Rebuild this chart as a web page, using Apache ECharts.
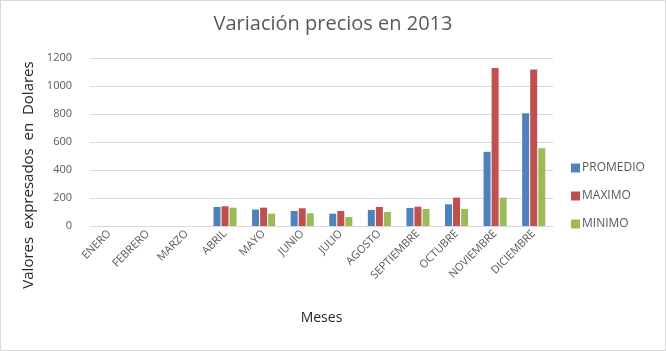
<!DOCTYPE html>
<html>
<head>
<meta charset="utf-8">
<script src="https://cdn.jsdelivr.net/npm/echarts@6/dist/echarts.min.js"></script>
<style>
  html, body { margin: 0; padding: 0; background: #fff; }
  #chart { width: 664px; height: 349px; border: 1px solid #d9d9d9; }
</style>
</head>
<body>
<div id="chart"></div>
<script>
  // datos
  var meses = ['ENERO', 'FEBRERO', 'MARZO', 'ABRIL', 'MAYO', 'JUNIO', 'JULIO', 'AGOSTO', 'SEPTIEMBRE', 'OCTUBRE', 'NOVIEMBRE', 'DICIEMBRE'];
  var promedio = [0, 0, 0, 136, 117, 107, 88, 115, 129, 155, 530, 805];
  var maximo = [0, 0, 0, 141, 131, 127, 107, 136, 138, 203, 1128, 1118];
  var minimo = [0, 0, 0, 131, 88, 91, 64, 100, 122, 122, 203, 556];

  var font = 'Open Sans, sans-serif';
  var chart = echarts.init(document.getElementById('chart'));

  chart.setOption({
    animation: false,
    title: {
      text: 'Variación precios en 2013',
      left: 'center',
      top: 8,
      textStyle: { fontFamily: font, fontSize: 20, fontWeight: 'normal', color: '#595959' }
    },
    legend: {
      orient: 'vertical',
      left: 565,
      top: 156,
      itemWidth: 9,
      itemHeight: 9,
      itemGap: 16,
      icon: 'rect',
      data: ['PROMEDIO', 'MAXIMO', 'MINIMO'],
      textStyle: { fontFamily: font, fontSize: 12, color: '#595959', padding: [0, 0, 0, -3] }
    },
    grid: {
      left: 89,
      right: 112,
      top: 57,
      bottom: 124
    },
    xAxis: {
      type: 'category',
      data: meses,
      name: 'Meses',
      nameLocation: 'middle',
      nameGap: 85,
      nameTextStyle: { fontFamily: font, fontSize: 14, color: '#262626' },
      axisLine: { lineStyle: { color: '#d9d9d9' } },
      axisTick: { show: false },
      axisLabel: { rotate: 45, interval: 0, fontFamily: font, fontSize: 11, color: '#595959', margin: 6 }
    },
    yAxis: {
      type: 'value',
      min: 0,
      max: 1200,
      interval: 200,
      name: 'Valores  expresados  en  Dolares',
      nameLocation: 'middle',
      nameGap: 45,
      nameTextStyle: { fontFamily: font, fontSize: 15, color: '#262626', padding: [0, 66, 0, 0] },
      axisLine: { show: false },
      axisTick: { show: false },
      axisLabel: {
        formatter: function (v) { return String(v); },
        fontFamily: font, fontSize: 11, color: '#595959', margin: 18
      },
      splitLine: { lineStyle: { color: '#d9d9d9' } }
    },
    series: [
      { name: 'PROMEDIO', type: 'bar', data: promedio, barWidth: 7, barGap: '15%', itemStyle: { color: '#4f81bd' } },
      { name: 'MAXIMO', type: 'bar', data: maximo, barWidth: 7, barGap: '15%', itemStyle: { color: '#c0504d' } },
      { name: 'MINIMO', type: 'bar', data: minimo, barWidth: 7, barGap: '15%', itemStyle: { color: '#9bbb59' } }
    ]
  });
</script>
</body>
</html>
